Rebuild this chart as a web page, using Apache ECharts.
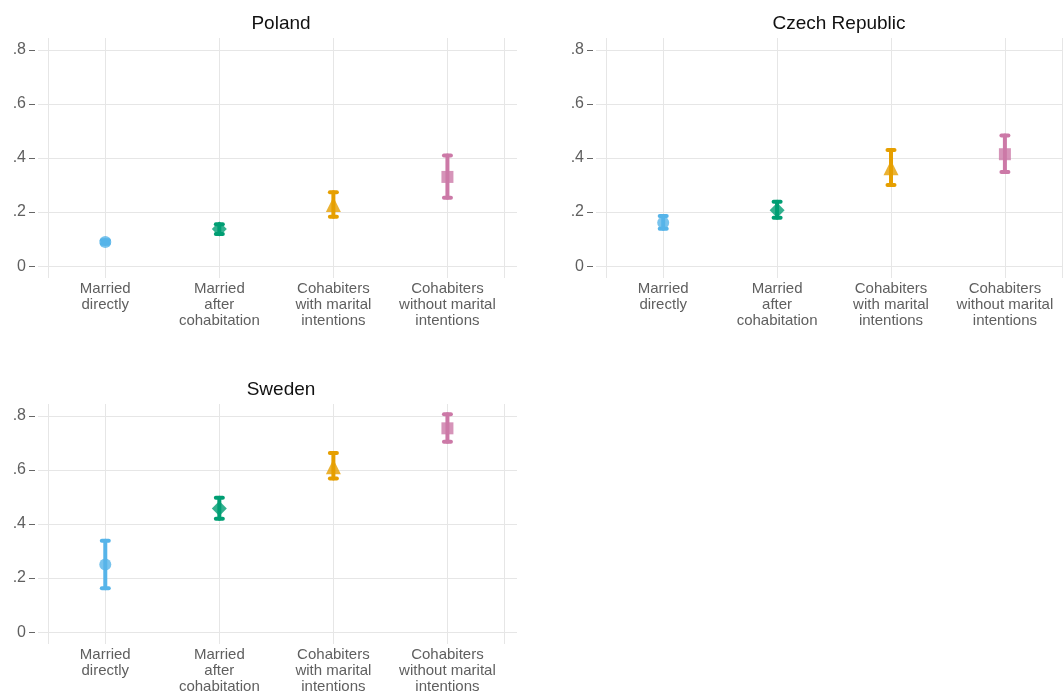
<!DOCTYPE html>
<html lang="en">
<head>
    <meta charset="UTF-8">
    <title>Marginal predictions</title>
    <script src="https://cdn.jsdelivr.net/npm/echarts@6.0.0/dist/echarts.min.js"></script>
    <style>
        html, body { margin: 0; padding: 0; background: #fff; }
    </style>
</head>
<body>
<div id="chart" style="width: 1063px;height:697px;"></div>
</body>
<script>
    // data
    var categories = ['Married\ndirectly', 'Married\nafter\ncohabitation', 'Cohabiters\nwith marital\nintentions', 'Cohabiters\nwithout marital\nintentions'];
    var panels = ['Poland', 'Czech Republic', 'Sweden'];
    var yTicks = [0, 0.2, 0.4, 0.6, 0.8];

    var polandEst = [0.089, 0.137, 0.228, 0.330];
    var polandLo = [0.083, 0.119, 0.183, 0.253];
    var polandHi = [0.096, 0.155, 0.273, 0.409];

    var czechEst = [0.160, 0.207, 0.364, 0.414];
    var czechLo = [0.138, 0.179, 0.300, 0.348];
    var czechHi = [0.185, 0.238, 0.430, 0.483];

    var swedenEst = [0.250, 0.457, 0.612, 0.754];
    var swedenLo = [0.162, 0.419, 0.568, 0.704];
    var swedenHi = [0.338, 0.497, 0.663, 0.806];

    var colors = ['#56B4E9', '#009E73', '#E69F00', '#CC79A7'];
    var symbols = ['circle', 'diamond', 'triangle', 'rect'];
    var symbolSizes = [12, 15, 15, 12];

    var est = [polandEst, czechEst, swedenEst];
    var lo = [polandLo, czechLo, swedenLo];
    var hi = [polandHi, czechHi, swedenHi];

    var gridColor = '#e6e6e6';
    var labelColor = '#5f5f5f';

    var grids = [
        {left: 38, top: 38, width: 479, height: 240},
        {left: 596, top: 38, width: 467, height: 240},
        {left: 38, top: 404, width: 479, height: 240}
    ];
    var xMax = [4.61, 4.51, 4.61];

    var xAxes = [], yAxes = [], series = [], titles = [];
    var titlePos = [[276, 9], [834, 9], [276, 375]];

    panels.forEach(function (name, p) {
        titles.push({
            text: name,
            left: titlePos[p][0],
            top: titlePos[p][1],
            textAlign: 'center',
            textStyle: {fontFamily: 'Liberation Sans, Arial', fontSize: 19, fontWeight: 'normal', color: '#111'}
        });
        xAxes.push({
            type: 'value',
            gridIndex: p,
            min: 0.41,
            max: xMax[p],
            axisLine: {show: false},
            axisTick: {show: false, customValues: [0.5, 1, 2, 3, 4, 4.5]},
            splitLine: {show: true, lineStyle: {color: gridColor, width: 1}},
            axisLabel: {
                customValues: [1, 2, 3, 4],
                margin: 3,
                fontFamily: 'Liberation Sans, Arial',
                fontSize: 15,
                lineHeight: 16,
                color: labelColor,
                align: 'center',
                verticalAlign: 'top',
                formatter: function (v) {
                    return categories[Math.round(v) - 1] || '';
                }
            }
        });
        yAxes.push({
            type: 'value',
            gridIndex: p,
            min: -0.044,
            max: 0.844,
            offset: 3,
            axisLine: {show: false},
            axisTick: {show: true, length: 6, customValues: yTicks, lineStyle: {color: '#666', width: 1}},
            splitLine: {show: true, lineStyle: {color: gridColor, width: 1}},
            axisLabel: {
                customValues: yTicks,
                margin: 9,
                fontFamily: 'Liberation Sans, Arial',
                fontSize: 16,
                color: labelColor,
                formatter: function (v) {
                    if (Math.abs(v) < 1e-9) return '0';
                    return '.' + Math.round(v * 10);
                }
            }
        });

        var rows = est[p].map(function (e, i) {
            return [i + 1, e, lo[p][i], hi[p][i]];
        });

        series.push({
            type: 'custom',
            xAxisIndex: p,
            yAxisIndex: p,
            silent: true,
            data: rows,
            encode: {x: 0, y: [1, 2, 3]},
            renderItem: function (params, api) {
                var x = api.value(0);
                var top = api.coord([x, api.value(3)]);
                var bot = api.coord([x, api.value(2)]);
                var c = colors[params.dataIndex];
                var half = 3.5;
                var style = {stroke: c, lineWidth: 4, lineCap: 'round'};
                return {
                    type: 'group',
                    children: [
                        {type: 'line', shape: {x1: top[0], y1: top[1], x2: bot[0], y2: bot[1]}, style: style},
                        {type: 'line', shape: {x1: top[0] - half, y1: top[1], x2: top[0] + half, y2: top[1]}, style: style},
                        {type: 'line', shape: {x1: bot[0] - half, y1: bot[1], x2: bot[0] + half, y2: bot[1]}, style: style}
                    ]
                };
            },
            z: 2
        });

        series.push({
            type: 'scatter',
            xAxisIndex: p,
            yAxisIndex: p,
            silent: true,
            data: rows.map(function (r, i) {
                return {
                    value: [r[0], r[1]],
                    symbol: symbols[i],
                    symbolSize: symbolSizes[i],
                    itemStyle: {color: colors[i]}
                };
            }),
            z: 3
        });
    });

    echarts.init(document.getElementById('chart')).setOption({
        backgroundColor: '#fff',
        animation: false,
        title: titles,
        grid: grids,
        xAxis: xAxes,
        yAxis: yAxes,
        series: series
    });
</script>
</html>
